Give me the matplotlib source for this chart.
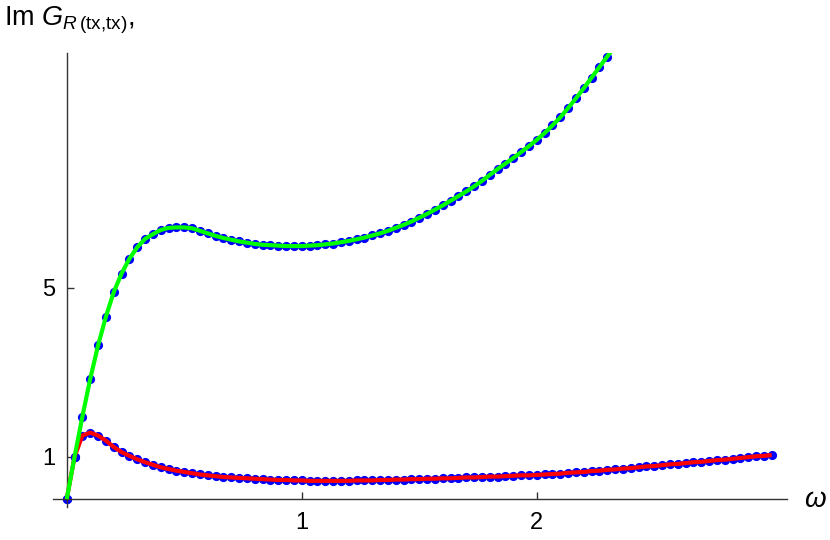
import matplotlib
matplotlib.use("Agg")
import matplotlib.pyplot as plt
import numpy as np

plt.rcParams['font.family'] = ['Liberation Sans', 'DejaVu Sans']
plt.rcParams['mathtext.fontset'] = 'custom'
plt.rcParams['mathtext.rm'] = 'Liberation Sans'
plt.rcParams['mathtext.it'] = 'Liberation Sans:italic'

# frequency grid (omega = k/30)
omega_upper = [k / 30 for k in range(0, 71)]
upper = [0.00, 1.00, 1.95, 2.84, 3.63, 4.31, 4.89, 5.33, 5.68, 5.95,
         6.15, 6.26, 6.36, 6.41, 6.42, 6.42, 6.40, 6.34, 6.28, 6.22,
         6.17, 6.13, 6.09, 6.06, 6.03, 6.01, 6.00, 5.99, 5.98, 5.98,
         5.98, 5.99, 6.00, 6.02, 6.04, 6.07, 6.10, 6.14, 6.18, 6.23,
         6.28, 6.34, 6.41, 6.48, 6.56, 6.65, 6.74, 6.84, 6.94, 7.05,
         7.16, 7.27, 7.39, 7.52, 7.66, 7.80, 7.93, 8.06, 8.20, 8.34,
         8.49, 8.65, 8.83, 9.02, 9.24, 9.47, 9.71, 9.96, 10.21, 10.46,
         10.70]

omega_lower = [k / 30 for k in range(0, 91)]
lower = [0.00, 1.00, 1.50, 1.57, 1.50, 1.38, 1.23, 1.11, 1.02, 0.94,
         0.87, 0.81, 0.75, 0.71, 0.67, 0.64, 0.61, 0.58, 0.56, 0.54,
         0.52, 0.51, 0.50, 0.49, 0.48, 0.47, 0.46, 0.45, 0.45, 0.44,
         0.44, 0.43, 0.43, 0.43, 0.43, 0.43, 0.43, 0.44, 0.44, 0.44,
         0.45, 0.45, 0.46, 0.46, 0.47, 0.47, 0.48, 0.48, 0.49, 0.49,
         0.50, 0.51, 0.51, 0.52, 0.53, 0.53, 0.54, 0.55, 0.56, 0.56,
         0.57, 0.58, 0.59, 0.60, 0.62, 0.63, 0.64, 0.66, 0.67, 0.69,
         0.70, 0.72, 0.73, 0.75, 0.77, 0.78, 0.80, 0.82, 0.83, 0.85,
         0.87, 0.88, 0.90, 0.92, 0.93, 0.95, 0.97, 0.99, 1.01, 1.02,
         1.04]

x_ticks = [1, 2]
y_ticks = [1, 5]

fig = plt.figure(figsize=(8.3, 5.4), dpi=100)
ax = fig.add_axes([0.0634, 0.0602, 0.8848, 0.8422])

ax.plot(omega_upper, upper, 'o', color='#0000ff', markersize=6.6,
        markeredgewidth=0, zorder=2)
ax.plot(omega_lower, lower, 'o', color='#0000ff', markersize=6.6,
        markeredgewidth=0, zorder=2)
ax.plot(omega_lower, lower, '-', color='#ff0000', lw=3.0, zorder=3,
        solid_capstyle='butt')
ax.plot(omega_upper, upper, '-', color='#00ff00', lw=3.0, zorder=4,
        solid_capstyle='butt')

ax.set_xlim(-0.06, 3.065)
ax.set_ylim(-0.2, 10.55)

for s in ['top', 'right']:
    ax.spines[s].set_visible(False)
ax.spines['left'].set_position(('data', 0))
ax.spines['bottom'].set_position(('data', 0))
for s in ['left', 'bottom']:
    ax.spines[s].set_color('#333333')
    ax.spines[s].set_linewidth(1.0)

ax.set_xticks(x_ticks)
ax.set_yticks(y_ticks)
ax.set_xticklabels([str(t) for t in x_ticks])
ax.set_yticklabels([str(t) for t in y_ticks])
ax.tick_params(axis='both', direction='in', length=5, width=1.0,
               color='#333333', labelsize=17, labelcolor='black')
ax.tick_params(axis='x', pad=9)
ax.tick_params(axis='y', pad=8)

fig.text(4 / 830, 1 - 26 / 540, r'Im $G_{R\,\mathrm{(tx{,}tx)}}$,',
         fontsize=19.5, ha='left', va='baseline')
fig.text(815 / 830, 1 - 500 / 540, r'$\omega$', fontsize=20,
         ha='center', va='center')

fig.savefig('out.png', dpi=100)
